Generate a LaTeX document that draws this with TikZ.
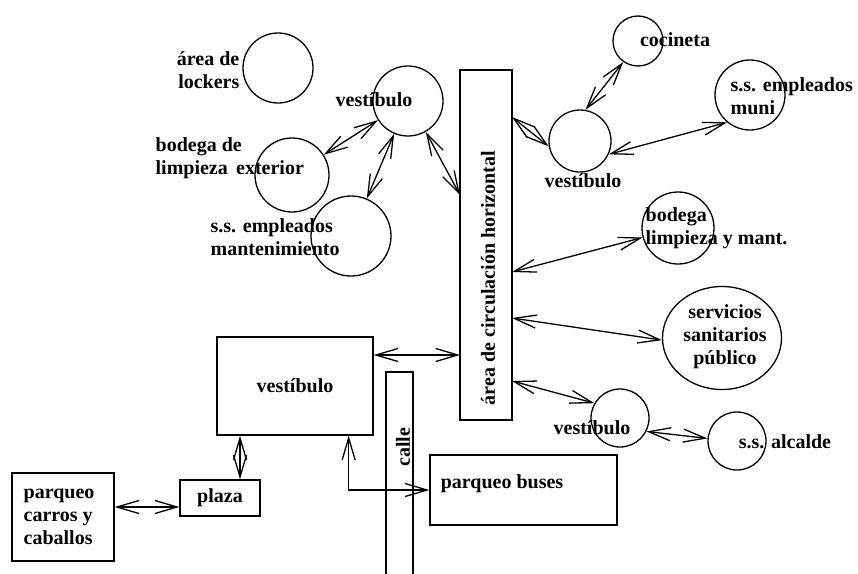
\documentclass[tikz,border=0pt]{standalone}
\usepackage{fontspec}
\setmainfont{Liberation Serif}
\usetikzlibrary{arrows.meta, calc, shapes.geometric}

\begin{document}
\begin{tikzpicture}[
    x=1pt, y=-1pt,
    line width=1.3pt,
    every node/.style={font=\fontsize{20}{23}\selectfont\bfseries},
    room/.style={circle, draw, inner sep=0pt},
    area/.style={rectangle, draw, inner sep=0pt},
    label/.style={align=left, inner sep=0pt},
    conn/.style={{Straight Barb[length=22pt,width=13pt]}-{Straight Barb[length=22pt,width=13pt]}}
]
\useasboundingbox (0,0) rectangle (858,573);

% -------------------------
% CIRCULATION AND STREET
% -------------------------
\node[area, minimum width=52pt, minimum height=350pt] (Circ) at (486,245) {};
\node[rotate=90, inner sep=0pt] (CircTxt) at (488,278) {área de circulación horizontal};

\node[area, minimum width=27pt, minimum height=230pt] (Calle) at (399.5,487) {};
\node[rotate=90, inner sep=0pt] (CalleTxt) at (403,447) {calle};

% -------------------------
% UPPER LEFT GROUP
% -------------------------
\node[room, minimum size=70pt] (Lockers) at (278,68) {};
\node[label, align=right, anchor=east] (LockersTxt) at (240,70) {área de\\lockers};

\node[room, minimum size=70pt] (VestA) at (408,101) {};
\node[inner sep=0pt] (VestALbl) at (374,100) {vestíbulo};

\node[room, minimum size=74pt] (BodegaExt) at (292,175) {};
\node[label, anchor=west] (BodegaExtTxt) at (155,158) {bodega de\\limpieza\, exterior};

\node[room, minimum size=80pt] (SSMant) at (351,236) {};
\node[label, anchor=west] (SSMantTxt) at (210,237) {s.s. empleados\\mantenimiento};

% -------------------------
% UPPER RIGHT GROUP
% -------------------------
\node[room, minimum size=62pt] (VestB) at (580,141) {};
\node[inner sep=0pt] (VestBLbl) at (583,181) {vestíbulo};

\node[room, minimum size=50pt] (Cocineta) at (638,41) {};
\node[inner sep=0pt] (CocinetaTxt) at (675,40) {cocineta};

\node[room, minimum size=70pt] (SSMuni) at (750,95) {};
\node[label, anchor=west] (SSMuniTxt) at (730,96) {s.s. empleados\\muni};

\node[room, minimum size=72pt] (BodegaLimp) at (678,228) {};
\node[label, anchor=west] (BodegaLimpTxt) at (645,228) {bodega\\limpieza y mant.};

% -------------------------
% LOWER RIGHT GROUP
% -------------------------
\node[ellipse, draw, inner sep=0pt, minimum width=119pt, minimum height=103pt] (ServSan) at (722,338) {};
\node[label, align=center] (ServSanTxt) at (725,337) {servicios\\ sanitarios\\público};

\node[room, minimum size=58pt] (VestC) at (620,418) {};
\node[inner sep=0pt] (VestCLbl) at (592,428) {vestíbulo};

\node[room, minimum size=58pt] (SSAlcalde) at (737,441) {};
\node[inner sep=0pt] (SSAlcaldeTxt) at (785,442) {s.s. alcalde};

% -------------------------
% LOWER LEFT GROUP
% -------------------------
\node[area, minimum width=156pt, minimum height=98pt] (VestRect) at (295,386) {vestíbulo};
\node[area, minimum width=80pt, minimum height=36pt] (Plaza) at (220,498) {plaza};
\node[area, minimum width=102pt, minimum height=88pt] (ParqCarros) at (63,517) {};
\node[label, anchor=west] (ParqCarrosTxt) at (23,517) {parqueo\\carros y\\caballos};
\node[area, minimum width=187pt, minimum height=70pt] (ParqBuses) at (523.5,490) {};
\node[inner sep=0pt] (ParqBusesTxt) at (502,484) {parqueo buses};

% points on the circulation area
\coordinate (CwA) at (460,195);
\coordinate (CwB) at (460,355);
\coordinate (CeA) at (512,117);
\coordinate (CeB) at (512,272);
\coordinate (CeC) at (512,318);
\coordinate (CeD) at (512,381);

% -------------------------
% CONNECTIONS
% -------------------------
\draw[conn] (VestA) -- (BodegaExt);
\draw[conn] (VestA) -- (SSMant);
\draw[conn] (VestA.-60) -- (CwA);

\draw[conn] (CeA) -- (VestB.190);
\draw[conn] (VestB.80) -- (Cocineta.-125);
\draw[conn] (VestB.-25) -- (SSMuni.-130);
\draw[conn] (CeB) -- (BodegaLimp.195);
\draw[conn] (CeC) -- (ServSan.182);
\draw[conn] (CeD) -- (VestC.150);
\draw[conn] (VestC.-27) -- (SSAlcalde.175);

\draw[conn] (VestRect.east |- CwB) -- (CwB);
\draw[conn] ([xshift=-25pt]VestRect.south east) |- (ParqBuses.west);
\draw[conn] ([xshift=20pt]Plaza.north) -- ([xshift=20pt]Plaza.north |- VestRect.south);
\draw[conn] ([yshift=-9pt]Plaza.west) -- ([yshift=-9pt]Plaza.west -| ParqCarros.east);

\end{tikzpicture}
\end{document}
